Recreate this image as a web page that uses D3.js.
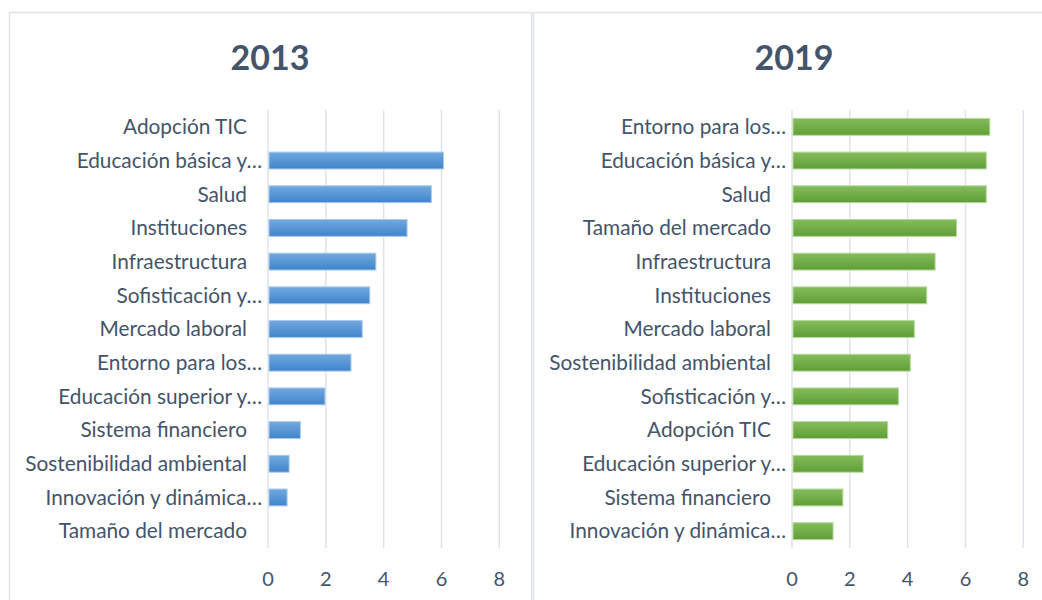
<!DOCTYPE html>
<html>
<head>
<meta charset="utf-8">
<script src="https://cdn.jsdelivr.net/npm/d3@7"></script>
<style>
  body { margin: 0; background: #fff; }
  svg { display: block; font-family: Lato, "Open Sans", sans-serif; }
</style>
</head>
<body>
<svg id="chart" width="1042" height="600"></svg>
<script>
// categorias e valores de cada ano, na ordem em que aparecem (de cima para baixo)
const categorias2013 = [
  "Adopción TIC", "Educación básica y…", "Salud", "Instituciones", "Infraestructura",
  "Sofisticación y…", "Mercado laboral", "Entorno para los…", "Educación superior y…",
  "Sistema financiero", "Sostenibilidad ambiental", "Innovación y dinámica…", "Tamaño del mercado"
];
const valores2013 = [0, 6.07, 5.65, 4.81, 3.73, 3.52, 3.26, 2.87, 1.97, 1.12, 0.73, 0.66, 0];

const categorias2019 = [
  "Entorno para los…", "Educación básica y…", "Salud", "Tamaño del mercado", "Infraestructura",
  "Instituciones", "Mercado laboral", "Sostenibilidad ambiental", "Sofisticación y…",
  "Adopción TIC", "Educación superior y…", "Sistema financiero", "Innovación y dinámica…"
];
const valores2019 = [6.84, 6.72, 6.72, 5.69, 4.95, 4.66, 4.23, 4.09, 3.68, 3.31, 2.46, 1.76, 1.42];

const ticksX = [0, 2, 4, 6, 8];

const svg = d3.select("#chart");
const defs = svg.append("defs");

// gradientes das barras (azul e verde)
function gradiente(id, topo, base) {
  const g = defs.append("linearGradient")
    .attr("id", id).attr("x1", 0).attr("y1", 0).attr("x2", 0).attr("y2", 1);
  g.append("stop").attr("offset", "0%").attr("stop-color", topo);
  g.append("stop").attr("offset", "100%").attr("stop-color", base);
}
gradiente("azul", "#72a9e0", "#3f84cb");
gradiente("verde", "#86bc5c", "#5e9f35");

function desenhaPainel(px, titulo, categorias, valores, cor, borda) {
  const painel = svg.append("g");

  // moldura do painel
  painel.append("rect")
    .attr("x", px + 0.5).attr("y", 12.5)
    .attr("width", 522).attr("height", 620)
    .attr("fill", "none").attr("stroke", "#dfe3e8").attr("stroke-width", 1.5);

  painel.append("text")
    .attr("x", px + 261).attr("y", 70)
    .attr("text-anchor", "middle")
    .attr("font-size", 34).attr("font-weight", "bold")
    .attr("fill", "#44546a")
    .text(titulo);

  const x0 = px + 259;
  const x = d3.scaleLinear().domain([0, 8]).range([x0, x0 + 231.3]);
  const y = d3.scaleBand().domain(categorias).range([110, 548]).paddingInner(0.5).paddingOuter(0.25);

  // linhas de grade verticais
  painel.append("g")
    .selectAll("line")
    .data(ticksX)
    .join("line")
    .attr("x1", d => x(d)).attr("x2", d => x(d))
    .attr("y1", 110).attr("y2", 548)
    .attr("stroke", "#dfe3e8").attr("stroke-width", 1.5);

  // rótulos do eixo X
  painel.append("g")
    .selectAll("text")
    .data(ticksX)
    .join("text")
    .attr("x", d => x(d)).attr("y", 586)
    .attr("text-anchor", "middle")
    .attr("font-size", 20)
    .attr("fill", "#44546a")
    .text(d => d);

  // barras
  painel.append("g")
    .selectAll("rect")
    .data(valores)
    .join("rect")
    .attr("x", x(0) + 1)
    .attr("y", (d, i) => y(categorias[i]))
    .attr("width", d => Math.max(0, x(d) - x(0) - 1))
    .attr("height", y.bandwidth())
    .attr("fill", `url(#${cor})`)
    .attr("stroke", borda).attr("stroke-width", 1)
    .attr("display", d => d > 0 ? null : "none");

  // rótulos das categorias
  painel.append("g")
    .selectAll("text")
    .data(categorias)
    .join("text")
    .attr("x", d => x(0) - (d.endsWith("…") ? 6 : 21))
    .attr("y", d => y(d) + y.bandwidth() / 2)
    .attr("dy", "0.35em")
    .attr("text-anchor", "end")
    .attr("font-size", 20.8)
    .attr("fill", "#44546a")
    .text(d => d);
}

desenhaPainel(9, "2013", categorias2013, valores2013, "azul", "#a9c9ee");
desenhaPainel(533, "2019", categorias2019, valores2019, "verde", "#b5d89c");
</script>
</body>
</html>
